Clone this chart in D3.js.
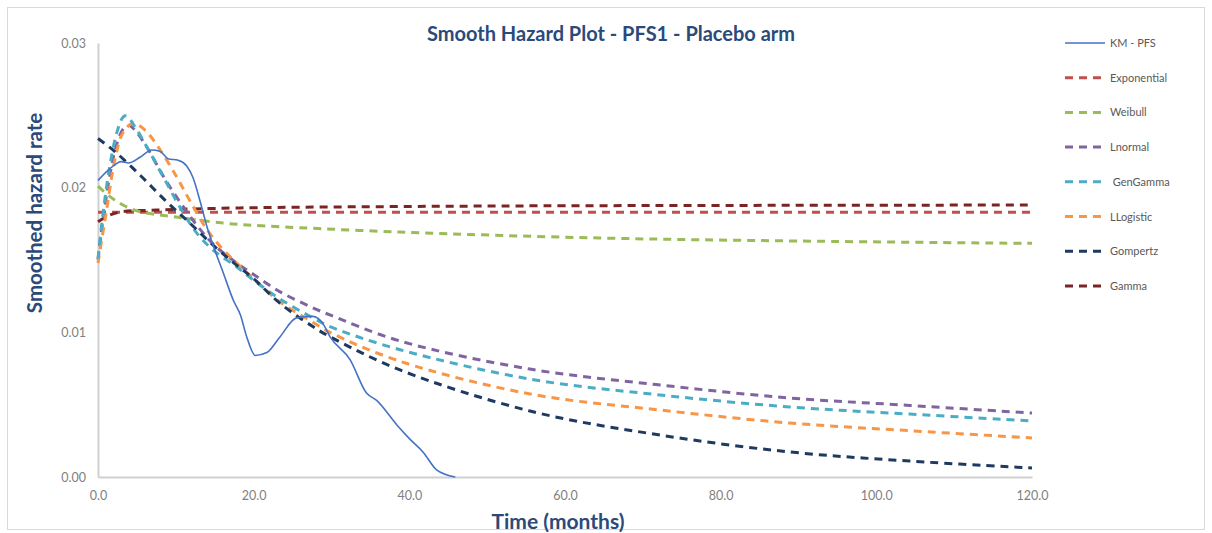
<!DOCTYPE html>
<html>
<head>
<meta charset="utf-8">
<script src="https://cdn.jsdelivr.net/npm/d3@7"></script>
<style>
  html, body { margin: 0; padding: 0; background: #fff; }
  svg { display: block; }
</style>
</head>
<body>
<svg id="chart" width="1212" height="533"></svg>
<script>
// Smoothed hazard estimates (per month) for the placebo arm.
const seriesNames = ["KM - PFS", "Exponential", "Weibull", "Lnormal", " GenGamma", "LLogistic", "Gompertz", "Gamma"];
const seriesColors = ["#4472C4", "#C0504D", "#9BBB59", "#8064A2", "#4BACC6", "#F79646", "#1F3A60", "#7B2424"];

const kmTime = [0, 1.5, 3, 3.9, 5.4, 6.9, 8, 9, 10.3, 11.4, 12.2, 13.1, 14, 15, 16.1, 17.4, 18.3, 19.1, 20.2, 21.7, 23.4, 25.5, 27.6, 28.9, 29.8, 32.4, 34.5, 35.8, 38.4, 40.1, 41.8, 43.5, 45.9];
const kmHazard = [0.0205, 0.0213, 0.0218, 0.0217, 0.0221, 0.0226, 0.0225, 0.0220, 0.0219, 0.0215, 0.0207, 0.0191, 0.0173, 0.0157, 0.0141, 0.0122, 0.0112, 0.0097, 0.0084, 0.0086, 0.0097, 0.0110, 0.0111, 0.0106, 0.0097, 0.0081, 0.0058, 0.0053, 0.0036, 0.0026, 0.0017, 0.0005, 0.0];

const expTime = [0, 120];
const expHazard = [0.0183, 0.0183];

const weibullTime = [0, 1.5, 3.2, 5.4, 9.6, 16.1, 20, 38.8, 64.5, 90.2, 120];
const weibullHazard = [0.0201, 0.0194, 0.0188, 0.01834, 0.0180, 0.01755, 0.0174, 0.01693, 0.01652, 0.01631, 0.01615];

const lnormTime = [0, 0.7, 1.5, 2.4, 3.3, 4, 5, 6.5, 8.6, 10.8, 12.7, 14.8, 17.8, 20, 23.4, 27.6, 29.8, 38.8, 55.5, 72.2, 88.9, 104.3, 120];
const lnormHazard = [0.0150, 0.0180, 0.0208, 0.0230, 0.0241, 0.0243, 0.0238, 0.0226, 0.0206, 0.0188, 0.0174, 0.0161, 0.0148, 0.0140, 0.0128, 0.0117, 0.0112, 0.0094, 0.00746, 0.00636, 0.00546, 0.00495, 0.00442];

const gengTime = [0, 0.7, 1.5, 2.4, 3.25, 3.7, 4.75, 6.5, 8.6, 10.75, 12.7, 14.8, 17.8, 20, 23.4, 27.6, 29.8, 38.8, 55.5, 72.2, 88.9, 104.3, 120];
const gengHazard = [0.0151, 0.01845, 0.02145, 0.02377, 0.0249, 0.02495, 0.02421, 0.0226, 0.02053, 0.01845, 0.01686, 0.01569, 0.01453, 0.0136, 0.0123, 0.0110, 0.0104, 0.0088, 0.00677, 0.00567, 0.00484, 0.00435, 0.00387];

const llogTime = [0, 1.1, 2.2, 3.2, 4.5, 6, 8, 10.1, 11.8, 14, 16.1, 17.8, 20, 23.4, 27.6, 29.8, 38.8, 55.5, 72.2, 88.9, 104.3, 120];
const llogHazard = [0.0148, 0.01845, 0.0220, 0.0238, 0.02446, 0.0240, 0.0226, 0.02075, 0.0191, 0.0171, 0.0157, 0.0148, 0.0137, 0.0121, 0.0107, 0.0100, 0.0080, 0.00574, 0.00463, 0.00373, 0.0032, 0.0027];

const gompTime = [0, 2.2, 5.4, 8.6, 11.8, 15, 17.8, 20, 23.4, 27.6, 29.8, 38.8, 55.5, 72.2, 88.9, 104.3, 120];
const gompHazard = [0.0234, 0.02248, 0.02087, 0.01914, 0.01755, 0.01592, 0.01465, 0.0137, 0.0120, 0.0104, 0.0097, 0.0074, 0.00456, 0.0029, 0.00173, 0.0011, 0.00062];

const gammaTime = [0, 1.5, 3.2, 7.5, 18.2, 40, 60, 120];
const gammaHazard = [0.01764, 0.0181, 0.01834, 0.01845, 0.0186, 0.0187, 0.01875, 0.0188];

const xTicks = [0, 20, 40, 60, 80, 100, 120];
const yTicks = [0, 0.01, 0.02, 0.03];

const seriesTimes = [kmTime, expTime, weibullTime, lnormTime, gengTime, llogTime, gompTime, gammaTime];
const seriesHazards = [kmHazard, expHazard, weibullHazard, lnormHazard, gengHazard, llogHazard, gompHazard, gammaHazard];

const series = seriesNames.map((name, i) => ({
  name,
  color: seriesColors[i],
  dashed: i > 0,
  points: seriesTimes[i].map((t, j) => ({ t, h: seriesHazards[i][j] }))
}));

const svg = d3.select("#chart");
const font = "Lato, 'Open Sans', sans-serif";

// Outer frame
svg.append("rect")
  .attr("x", 7.5).attr("y", 7.5)
  .attr("width", 1197).attr("height", 522)
  .attr("fill", "#fff")
  .attr("stroke", "#D9D9D9").attr("stroke-width", 1);

const plot = { left: 98, right: 1032, top: 43, bottom: 477 };

const x = d3.scaleLinear().domain([0, 120]).range([plot.left, plot.right]);
const y = d3.scaleLinear().domain([0, 0.03]).range([plot.bottom, plot.top]);

// Axes (no tick marks, light grey spine)
const xAxis = svg.append("g")
  .attr("transform", `translate(0,${plot.bottom})`)
  .call(d3.axisBottom(x).tickValues(xTicks).tickFormat(d3.format(".1f")).tickSize(0).tickPadding(14));
const yAxis = svg.append("g")
  .attr("transform", `translate(${plot.left},0)`)
  .call(d3.axisLeft(y).tickValues(yTicks).tickFormat(d3.format(".2f")).tickSize(0).tickPadding(12));

[xAxis, yAxis].forEach(g => {
  g.select(".domain").attr("stroke", "#D0D0D0").attr("stroke-width", 2);
  g.selectAll("text").attr("fill", "#7F7F7F").attr("font-family", font).attr("font-size", 12.5);
});

// Hazard curves: empirical estimate keeps its shape, fitted curves drawn smooth
const kmLine = d3.line()
  .x(d => x(d.t))
  .y(d => y(d.h))
  .curve(d3.curveMonotoneX);
const fitLine = d3.line()
  .x(d => x(d.t))
  .y(d => y(d.h))
  .curve(d3.curveCatmullRom.alpha(0.5));

const drawOrder = [1, 7, 2, 3, 5, 4, 6, 0];
drawOrder.forEach(i => {
  const s = series[i];
  svg.append("path")
    .datum(s.points)
    .attr("fill", "none")
    .attr("stroke", s.color)
    .attr("stroke-width", s.dashed ? 3 : 1.6)
    .attr("stroke-dasharray", s.dashed ? "8,6" : null)
    .attr("stroke-linejoin", "round")
    .attr("d", s.dashed ? fitLine : kmLine);
});

// Title and axis titles
svg.append("text")
  .attr("x", 611).attr("y", 41)
  .attr("text-anchor", "middle")
  .attr("font-family", font).attr("font-weight", "bold").attr("font-size", 20)
  .attr("fill", "#2B4A7A")
  .text("Smooth Hazard Plot - PFS1 - Placebo arm");

svg.append("text")
  .attr("transform", "translate(42,213) rotate(-90)")
  .attr("text-anchor", "middle")
  .attr("font-family", font).attr("font-weight", "bold").attr("font-size", 20.5)
  .attr("fill", "#2B4A7A")
  .text("Smoothed hazard rate");

svg.append("text")
  .attr("x", 558).attr("y", 529)
  .attr("text-anchor", "middle")
  .attr("font-family", font).attr("font-weight", "bold").attr("font-size", 21)
  .attr("fill", "#2B4A7A")
  .text("Time (months)");

// Legend
const legend = svg.append("g");
series.forEach((s, i) => {
  const ly = 43 + i * 34.7;
  legend.append("line")
    .attr("x1", 1065).attr("x2", 1105)
    .attr("y1", ly).attr("y2", ly)
    .attr("stroke", s.color)
    .attr("stroke-width", s.dashed ? 3 : 1.6)
    .attr("stroke-dasharray", s.dashed ? "8,6" : null);
  legend.append("text")
    .attr("x", 1110).attr("y", ly + 4)
    .attr("font-family", font).attr("font-size", 11)
    .attr("fill", "#595959")
    .attr("xml:space", "preserve")
    .text(s.name);
});
</script>
</body>
</html>
